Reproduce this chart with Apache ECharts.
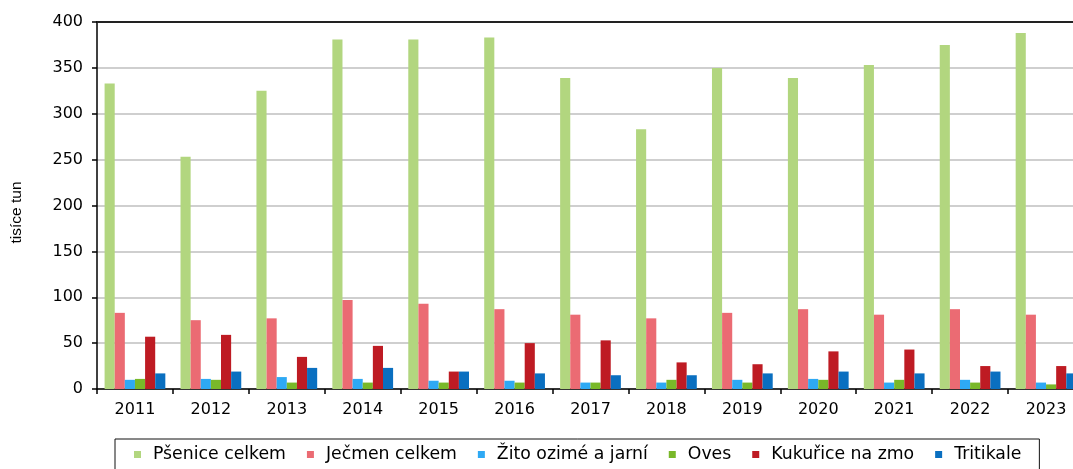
<!DOCTYPE html>
<html>
<head>
<meta charset="utf-8">
<script src="https://cdn.jsdelivr.net/npm/echarts@6/dist/echarts.min.js"></script>
<style>html,body{margin:0;padding:0;background:#fff;overflow:hidden;width:1073px;height:469px;}#c{width:1110px;height:469px;}</style>
</head>
<body>
<div id="c"></div>
<script>
var categories = ['2011','2012','2013','2014','2015','2016','2017','2018','2019','2020','2021','2022','2023'];
var seriesNames = ['Pšenice celkem','Ječmen celkem','Žito ozimé a jarní','Oves','Kukuřice na zmo','Tritikale'];
var psenice   = [333, 253, 325, 381, 381, 383, 339, 283, 350, 339, 353, 375, 388];
var jecmen    = [83, 75, 77, 97, 93, 87, 81, 77, 83, 87, 81, 87, 81];
var zito      = [10, 11, 13, 11, 9, 9, 7, 7, 10, 11, 7, 10, 7];
var oves      = [11, 10, 7, 7, 7, 7, 7, 10, 7, 10, 10, 7, 5];
var kukurice  = [57, 59, 35, 47, 19, 50, 53, 29, 27, 41, 43, 25, 25];
var tritikale = [17, 19, 23, 23, 19, 17, 15, 15, 17, 19, 17, 19, 17];
var yTicks = [0, 50, 100, 150, 200, 250, 300, 350, 400];

var colors = ['#b2d67f','#eb6b73','#2ea9f4','#79b829','#be1b23','#0a6fc0'];
var values = [psenice, jecmen, zito, oves, kukurice, tritikale];
var font = 'DejaVu Sans';

var chart = echarts.init(document.getElementById('c'));
chart.setOption({
  animation: false,
  color: colors,
  grid: {left: 97, top: 22, width: 987, height: 367},
  legend: {
    data: seriesNames,
    left: 115, top: 439,
    padding: [7, 18, 20, 19],
    borderColor: '#111', borderWidth: 1,
    icon: 'rect', itemWidth: 7, itemHeight: 7,
    itemGap: 21,
    textStyle: {fontFamily: font, fontSize: 17.3, color: '#000', padding: [0, 0, 0, 7]}
  },
  xAxis: [{
    type: 'category', data: categories,
    axisLine: {lineStyle: {color: '#000', width: 1.5}},
    axisTick: {show: true, length: 5, lineStyle: {color: '#000', width: 1.5}},
    axisLabel: {fontFamily: font, fontSize: 16, color: '#000', margin: 13}
  }, {
    type: 'category', data: categories, position: 'top',
    axisLine: {show: true, lineStyle: {color: '#222', width: 2}},
    axisTick: {show: false}, axisLabel: {show: false}
  }],
  yAxis: {
    type: 'value', min: 0, max: 400, interval: 50,
    name: 'tisíce tun', nameLocation: 'middle', nameGap: 72, nameRotate: 90,
    nameTextStyle: {fontFamily: 'Liberation Sans', fontSize: 15.5, color: '#000', padding: [0, 0, 0, -14]},
    axisLine: {show: true, lineStyle: {color: '#000', width: 1.5}},
    axisTick: {show: true, length: 5, lineStyle: {color: '#000', width: 1.5}},
    axisLabel: {fontFamily: font, fontSize: 16, color: '#000', margin: 14,
      formatter: function(v){ return yTicks.indexOf(v) >= 0 ? String(v) : ''; }},
    splitLine: {lineStyle: {color: '#cfcfcf', width: 2}}
  },
  series: seriesNames.map(function(n, i){
    return {name: n, type: 'bar', data: values[i], barGap: '0%', barCategoryGap: '20%',
      itemStyle: {color: colors[i]}};
  })
});
</script>
</body>
</html>
